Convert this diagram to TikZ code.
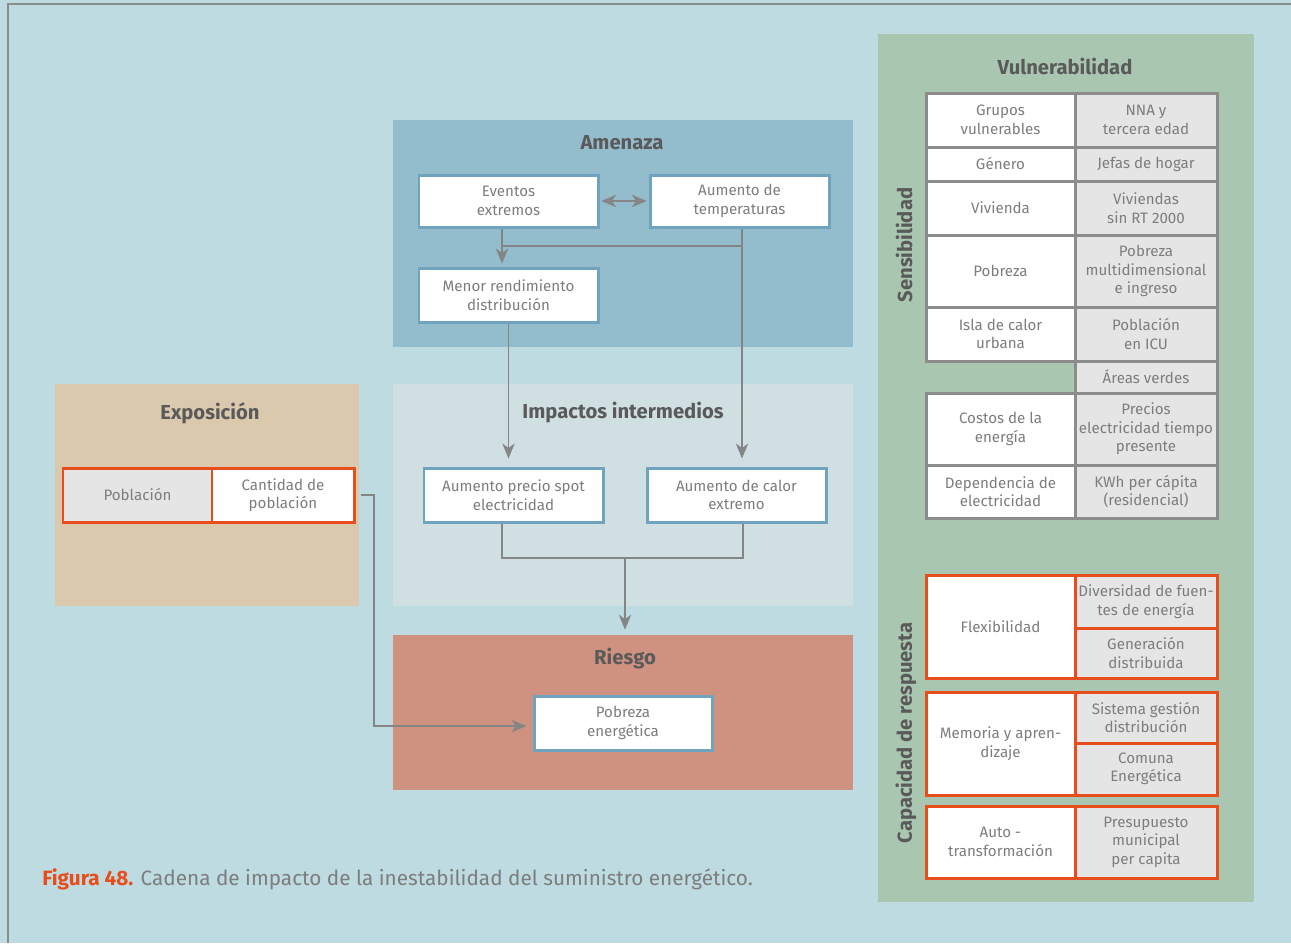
\documentclass[tikz,border=0pt]{standalone}
\usepackage{fontspec}
\setmainfont{Fira Sans}
\usetikzlibrary{arrows.meta, positioning, calc}

\definecolor{bgc}{HTML}{BDDBE0}
\definecolor{framec}{HTML}{8C8C8C}
\definecolor{amenazac}{HTML}{93BCCC}
\definecolor{impactc}{HTML}{CFDFE2}
\definecolor{riesgoc}{HTML}{CF9180}
\definecolor{exposc}{HTML}{DBC9AD}
\definecolor{vulnc}{HTML}{A9C7B0}
\definecolor{bluec}{HTML}{6FA3BE}
\definecolor{redc}{HTML}{E84E1B}
\definecolor{cellgc}{HTML}{E4E5E4}
\definecolor{txtc}{HTML}{7D7D7D}
\definecolor{ttlc}{HTML}{5A5A5A}
\definecolor{linec}{HTML}{858585}

\tikzset{
  panel/.style = {rectangle, inner sep=0pt},
  cell/.style  = {draw=bluec, line width=1.7pt, fill=white, rectangle, align=center,
                  inner sep=0pt, text=txtc, font=\fontsize{8.6}{10.5}\selectfont},
  tcell/.style = {cell, draw=framec},
  tcellg/.style= {tcell, fill=cellgc},
  rcell/.style = {cell, draw=redc},
  rcellg/.style= {rcell, fill=cellgc},
  ttl/.style   = {text=ttlc, font=\fontsize{11.5}{13}\selectfont\bfseries},
  line/.style  = {draw=linec, line width=0.9pt},
  tip/.tip     = {Stealth[length=8.5pt, width=7pt, inset=2.5pt]},
  arr/.style   = {line, -tip},
  arr2/.style  = {line, tip-tip, shorten <=1pt, shorten >=1pt}
}

\begin{document}
\begin{tikzpicture}[x=0.2mm, y=-0.2mm]

  % ── Page ──────────────────────────────────────────────────────────────────
  \useasboundingbox (0,0) rectangle (1291,943);
  \fill[bgc] (0,0) rectangle (1291,943);
  \draw[framec, line width=1.3pt] (8,943) |- (1291,4);

  % ── Panels ────────────────────────────────────────────────────────────────
  \node[panel, fill=amenazac, minimum width=92mm, minimum height=45.4mm] (amenaza) at (623,233.5) {};
  \node[panel, fill=impactc,  minimum width=92mm, minimum height=44.4mm] (impactos) at (623,495) {};
  \node[panel, fill=riesgoc,  minimum width=92mm, minimum height=31mm]   (riesgo) at (623,712.5) {};
  \node[panel, fill=exposc,   minimum width=60.8mm, minimum height=44.4mm] (expos) at (207,495) {};
  \node[panel, fill=vulnc,    minimum width=75.2mm, minimum height=173.6mm] (vuln) at (1066,468) {};

  \node[ttl] (tAmenaza)  at (622,143) {Amenaza};
  \node[ttl] (tImpactos) at (623,413) {Impactos intermedios};
  \node[ttl] (tRiesgo)   at (625,659) {Riesgo};
  \node[ttl] (tExpos)    at (210,413) {Exposición};
  \node[ttl] (tVuln)     at (1065,66) {Vulnerabilidad};
  \node[ttl, rotate=90] (tSens) at (904,245) {Sensibilidad};
  \node[ttl, rotate=90] (tCap)  at (906,733) {Capacidad de respuesta};

  % ── Amenaza ───────────────────────────────────────────────────────────────
  \node[cell, minimum width=35.8mm, minimum height=10.4mm] (eventos) at (508.5,201) {Eventos\\extremos};
  \node[cell, minimum width=35.8mm, minimum height=10.4mm] (temp) at (739.5,201) {Aumento de\\temperaturas};
  \node[cell, minimum width=35.8mm, minimum height=10.8mm] (menor) at (508.5,295) {Menor rendimiento\\distribución};

  % ── Impactos intermedios ───────────────────────────────────────────────────
  \node[cell, minimum width=35.8mm, minimum height=10.8mm] (precio) at (513.5,495) {Aumento precio spot\\electricidad};
  \node[cell, minimum width=35.8mm, minimum height=10.8mm] (calor) at (736.5,495) {Aumento de calor\\extremo};

  % ── Riesgo ────────────────────────────────────────────────────────────────
  \node[cell, minimum width=35.6mm, minimum height=10.8mm] (pobEn) at (623,723) {Pobreza\\energética};

  % ── Exposición ────────────────────────────────────────────────────────────
  \node[rcellg, minimum width=29.8mm, minimum height=10.8mm] (pobl) at (137.5,495) {Población};
  \node[rcell,  minimum width=28.4mm, minimum height=10.8mm] (cant) at (283,495) {Cantidad de\\población};

  % ── Sensibilidad ──────────────────────────────────────────────────────────
  \node[tcell,  minimum width=29.8mm, minimum height=10.8mm] (grupos) at (1000.5,120) {Grupos\\vulnerables};
  \node[tcellg, minimum width=28.4mm, minimum height=10.8mm] (nna) at (1146,120) {NNA y\\tercera edad};
  \node[tcell,  minimum width=29.8mm, minimum height=6.8mm] (genero) at (1000.5,164) {Género};
  \node[tcellg, minimum width=28.4mm, minimum height=6.8mm] (jefas) at (1146,164) {Jefas de hogar};
  \node[tcell,  minimum width=29.8mm, minimum height=10.8mm] (vivienda) at (1000.5,208) {Vivienda};
  \node[tcellg, minimum width=28.4mm, minimum height=10.8mm] (rt) at (1146,208) {Viviendas\\sin RT 2000};
  \node[tcell,  minimum width=29.8mm, minimum height=14.4mm] (pobreza) at (1000.5,271) {Pobreza};
  \node[tcellg, minimum width=28.4mm, minimum height=14.4mm] (multi) at (1146,271) {Pobreza\\multidimensional\\e ingreso};
  \node[tcell,  minimum width=29.8mm, minimum height=10.8mm] (isla) at (1000.5,334) {Isla de calor\\urbana};
  \node[tcellg, minimum width=28.4mm, minimum height=10.8mm] (icu) at (1146,334) {Población\\en ICU};
  \node[tcellg, minimum width=28.4mm, minimum height=6.4mm] (areas) at (1146,377) {Áreas verdes};
  \node[tcell,  minimum width=29.8mm, minimum height=14.4mm] (costos) at (1000.5,429) {Costos de la\\energía};
  \node[tcellg, minimum width=28.4mm, minimum height=14.4mm] (precios) at (1146,429) {Precios\\electricidad tiempo\\presente};
  \node[tcell,  minimum width=29.8mm, minimum height=10.6mm] (depend) at (1000.5,491.5) {Dependencia de\\electricidad};
  \node[tcellg, minimum width=28.4mm, minimum height=10.6mm] (kwh) at (1146,491.5) {KWh per cápita\\(residencial)};

  % ── Capacidad de respuesta ────────────────────────────────────────────────
  \node[rcell,  minimum width=29.8mm, minimum height=20.6mm] (flex) at (1000.5,626.5) {Flexibilidad};
  \node[rcellg, minimum width=28.4mm, minimum height=10.6mm] (divers) at (1146,601.5) {Diversidad de fuen-\\tes de energía};
  \node[rcellg, minimum width=28.4mm, minimum height=10mm] (gener) at (1146,653) {Generación\\distribuida};
  \node[rcell,  minimum width=29.8mm, minimum height=20.6mm] (memoria) at (1000.5,743.5) {Memoria y apren-\\dizaje};
  \node[rcellg, minimum width=28.4mm, minimum height=10.2mm] (sistema) at (1146,717.5) {Sistema gestión\\distribución};
  \node[rcellg, minimum width=28.4mm, minimum height=10.4mm] (comuna) at (1146,769) {Comuna\\Energética};
  \node[rcell,  minimum width=29.8mm, minimum height=14.4mm] (auto) at (1000.5,842) {Auto -\\transformación};
  \node[rcellg, minimum width=28.4mm, minimum height=14.4mm] (presup) at (1146,842) {Presupuesto\\municipal\\per capita};

  % ── Caption ───────────────────────────────────────────────────────────────
  \node[anchor=west, inner sep=0pt, text=txtc, font=\fontsize{11.8}{13}\selectfont] (caption) at (42,879)
       {\textcolor{redc}{\bfseries Figura 48.} Cadena de impacto de la inestabilidad del suministro energético.};

  % ── Connections ───────────────────────────────────────────────────────────
  \coordinate (jn)  at (742,246);
  \coordinate (imp) at (625,558);
  \coordinate (bx)  at (374,495);
  \coordinate (evs) at ([xshift=-1.3mm]eventos.south);

  % Eventos <-> temperaturas
  \draw[arr2] (eventos) -- (temp);

  % Eventos -> menor rendimiento, temperaturas -> calor extremo
  \draw[arr] (evs) -- ([yshift=0.6mm]evs |- menor.north);
  \draw[arr] ([xshift=0.5mm]temp.south) -- ([yshift=1.6mm]jn |- calor.north);
  \draw[line] (jn) -- (jn -| evs);

  % Menor rendimiento -> precio spot
  \draw[arr] (menor.south) -- ([yshift=1.6mm]menor.south |- precio.north);

  % Impactos -> riesgo
  \draw[line] ([xshift=-2.3mm]precio.south) |- (imp) -| ([xshift=1.3mm]calor.south);
  \draw[arr] (imp) -- ([yshift=1mm]imp |- riesgo.north);

  % Exposición -> pobreza energética
  \draw[arr] ([xshift=1mm]cant.east) -- (bx) |- ([xshift=-1.2mm,yshift=-0.6mm]pobEn.west);

\end{tikzpicture}
\end{document}
